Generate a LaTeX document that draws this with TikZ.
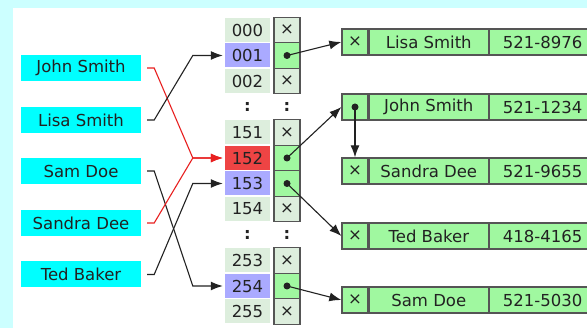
\documentclass[tikz,border=0pt]{standalone}
\usepackage{fontspec}
\setmainfont{DejaVu Sans}
\usetikzlibrary{arrows.meta}

\definecolor{bgcyan}{HTML}{CCFFFF}
\definecolor{keycyan}{HTML}{00FFFF}
\definecolor{idxgray}{HTML}{DDEEDD}
\definecolor{idxblue}{HTML}{AAAAFF}
\definecolor{idxred}{HTML}{EE4444}
\definecolor{slotgreen}{HTML}{A0F8A0}
\definecolor{edgegray}{HTML}{555555}
\definecolor{inkgray}{HTML}{222222}
\definecolor{hashred}{HTML}{E82020}

\tikzset{
 every node/.style={font=\fontsize{16.5}{19}\selectfont, text=inkgray, inner sep=0pt},
 keybox/.style={fill=keycyan, minimum width=120pt, minimum height=26pt},
 idxbox/.style={fill=idxgray, minimum width=45pt, minimum height=24pt},
 slot/.style={draw=edgegray, line width=1.3pt, fill=idxgray, minimum width=26pt, minimum height=25.5pt},
 full/.style={fill=slotgreen},
 cell/.style={draw=edgegray, line width=1.3pt, fill=slotgreen, minimum height=26pt},
 link/.style={inkgray, line width=1.1pt, -{Latex[length=12pt,width=9pt]}}
}

\begin{document}
\begin{tikzpicture}[x=1pt,y=-1pt]
 \useasboundingbox (0,0) rectangle (587,328);
 \clip (0,0) rectangle (587,328);
 \fill[bgcyan] (0,0) rectangle (587,328);
 \fill[white] (13,8) rectangle (587,328);

 % keys
 \node[keybox] (kjohn) at (81,68) {John Smith};
 \node[keybox] (klisa) at (81,120) {Lisa Smith};
 \node[keybox] (ksam) at (81,171) {Sam Doe};
 \node[keybox] (ksandra) at (81,223) {Sandra Dee};
 \node[keybox] (kted) at (81,274.5) {Ted Baker};

 % hash indices
 \node[idxbox] (i000) at (247.5,30) {000};
 \node[idxbox,fill=idxblue] (i001) at (247.5,55.5) {001};
 \node[idxbox] (i002) at (247.5,81) {002};
 \node (idots1) at (247.5,107) {\textbf{:}};
 \node[idxbox] (i151) at (247.5,132.5) {151};
 \node[idxbox,fill=idxred] (i152) at (247.5,158) {152};
 \node[idxbox,fill=idxblue] (i153) at (247.5,183.5) {153};
 \node[idxbox] (i154) at (247.5,209) {154};
 \node (idots2) at (247.5,235) {\textbf{:}};
 \node[idxbox] (i253) at (247.5,260.5) {253};
 \node[idxbox,fill=idxblue] (i254) at (247.5,286) {254};
 \node[idxbox] (i255) at (247.5,311.5) {255};

 % bucket slots
 \node[slot] (p000) at (287,30) {×};
 \node[slot,full] (p001) at (287,55.5) {};
 \node[slot] (p002) at (287,81) {×};
 \node (pdots1) at (287,107) {\textbf{:}};
 \node[slot] (p151) at (287,132.5) {×};
 \node[slot,full] (p152) at (287,158) {};
 \node[slot,full] (p153) at (287,183.5) {};
 \node[slot] (p154) at (287,209) {×};
 \node (pdots2) at (287,235) {\textbf{:}};
 \node[slot] (p253) at (287,260.5) {×};
 \node[slot,full] (p254) at (287,286) {};
 \node[slot] (p255) at (287,311.5) {×};

 % entries
 \node[cell,minimum width=26pt] (rlisa) at (355,42) {×};
 \node[cell,minimum width=119pt,anchor=west] (rlisaname) at (rlisa.east) {Lisa Smith};
 \node[cell,minimum width=106pt,anchor=west] (rlisatel) at (rlisaname.east) {521-8976};
 \node[cell,minimum width=26pt] (rjohn) at (355,107) {};
 \node[cell,minimum width=119pt,anchor=west] (rjohnname) at (rjohn.east) {John Smith};
 \node[cell,minimum width=106pt,anchor=west] (rjohntel) at (rjohnname.east) {521-1234};
 \node[cell,minimum width=26pt] (rsandra) at (355,171) {×};
 \node[cell,minimum width=119pt,anchor=west] (rsandraname) at (rsandra.east) {Sandra Dee};
 \node[cell,minimum width=106pt,anchor=west] (rsandratel) at (rsandraname.east) {521-9655};
 \node[cell,minimum width=26pt] (rted) at (355,236) {×};
 \node[cell,minimum width=119pt,anchor=west] (rtedname) at (rted.east) {Ted Baker};
 \node[cell,minimum width=106pt,anchor=west] (rtedtel) at (rtedname.east) {418-4165};
 \node[cell,minimum width=26pt] (rsam) at (355,300) {×};
 \node[cell,minimum width=119pt,anchor=west] (rsamname) at (rsam.east) {Sam Doe};
 \node[cell,minimum width=106pt,anchor=west] (rsamtel) at (rsamname.east) {521-5030};

 % hash function
 \draw[link,hashred] ([xshift=6pt]kjohn.east) -- ++(7pt,0) -- ([xshift=-32pt]i152.west) -- ([xshift=-2pt]i152.west);
 \draw[link] ([xshift=6pt]klisa.east) -- ++(7pt,0) -- ([xshift=-32pt]i001.west) -- ([xshift=-2pt]i001.west);
 \draw[link] ([xshift=6pt]ksam.east) -- ++(7pt,0) -- ([xshift=-32pt]i254.west) -- ([xshift=-2pt]i254.west);
 \draw[link,hashred] ([xshift=6pt]ksandra.east) -- ++(7pt,0) -- ([xshift=-32pt]i152.west) -- ([xshift=-2pt]i152.west);
 \draw[link] ([xshift=6pt]kted.east) -- ++(7pt,0) -- ([xshift=-32pt]i153.west) -- ([xshift=-2pt]i153.west);

 % chains
 \draw[link] (p001.center) -- (rlisa.west);
 \draw[link] (p152.center) -- (rjohn.west);
 \draw[link] (p153.center) -- (rted.west);
 \draw[link] (p254.center) -- (rsam.west);
 \draw[link] (rjohn.center) -- (rsandra.north);
 \fill[inkgray] (p001.center) circle (3.5pt);
 \fill[inkgray] (p152.center) circle (3.5pt);
 \fill[inkgray] (p153.center) circle (3.5pt);
 \fill[inkgray] (p254.center) circle (3.5pt);
 \fill[inkgray] (rjohn.center) circle (3.5pt);
\end{tikzpicture}
\end{document}
